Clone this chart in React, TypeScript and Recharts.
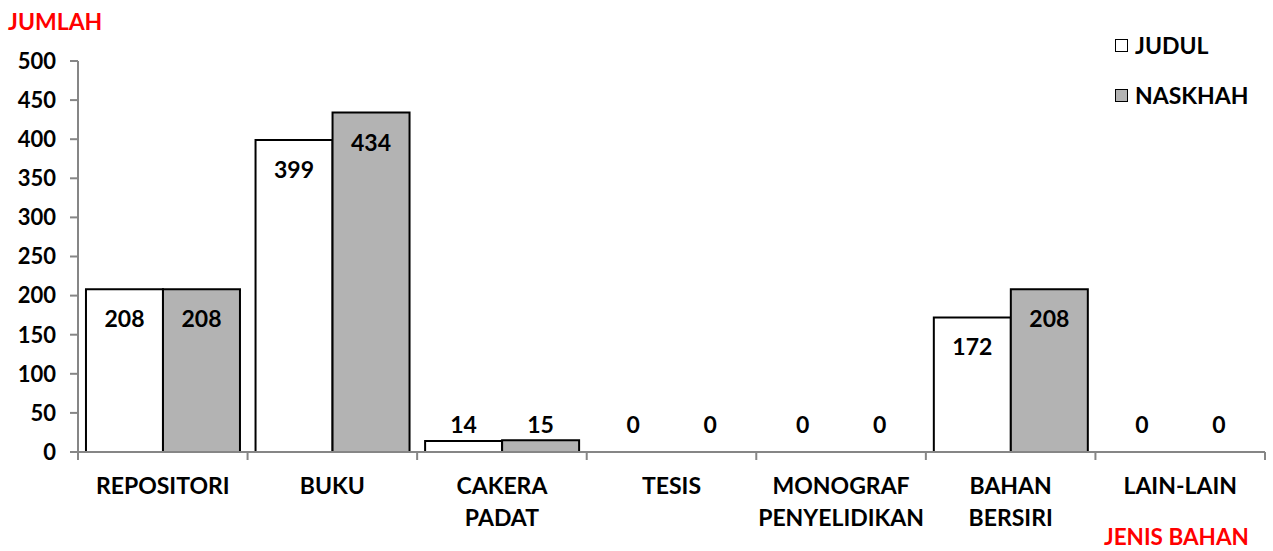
import React from "react";
import { Bar, BarChart, XAxis, YAxis, LabelList, Rectangle } from "recharts";

const categories = ["REPOSITORI", "BUKU", "CAKERA\nPADAT", "TESIS", "MONOGRAF\nPENYELIDIKAN", "BAHAN\nBERSIRI", "LAIN-LAIN"];
const judul = [208, 399, 14, 0, 0, 172, 0];
const naskhah = [208, 434, 15, 0, 0, 208, 0];
const yTicks = [0, 50, 100, 150, 200, 250, 300, 350, 400, 450, 500];

const data = categories.map((name, i) => ({ name, judul: judul[i], naskhah: naskhah[i] }));

const FONT = "Lato, 'Open Sans', sans-serif";
const W = 1273;
const H = 551;
const PLOT_LEFT = 78;
const PLOT_RIGHT = 1265;
const PLOT_TOP = 61;
const PLOT_BOTTOM = 452;
const BAND = (PLOT_RIGHT - PLOT_LEFT) / categories.length;

function CategoryTick(props: any) {
  const { x, y, payload, index } = props;
  const lines = String(payload.value).split("\n");
  const left = x - BAND / 2;
  return (
    <g>
      <line x1={left} y1={y - 8} x2={left} y2={y} stroke="#868686" strokeWidth={2} />
      {index === categories.length - 1 && (
        <line x1={x + BAND / 2} y1={y - 8} x2={x + BAND / 2} y2={y} stroke="#868686" strokeWidth={2} />
      )}
      <text x={x} y={y} textAnchor="middle" fontFamily={FONT} fontWeight={700} fontSize={23} fill="#000">
        {lines.map((l, i) => (
          <tspan key={i} x={x} dy={i === 0 ? 34 : 32}>
            {l}
          </tspan>
        ))}
      </text>
    </g>
  );
}

function ValueLabel(props: any) {
  const { x, y, width, height, value } = props;
  const base = y + height;
  const cy = height > 40 ? y + 30 : base - 27;
  return (
    <text x={x + width / 2} y={cy} dy={8} textAnchor="middle" fontFamily={FONT} fontWeight={700} fontSize={23} fill="#000">
      {value}
    </text>
  );
}

// zero bars are kept (for their labels) but not drawn
function BarShape(props: any) {
  if (!props.value || props.height < 0.5) return null;
  return <Rectangle {...props} />;
}

function LegendBox() {
  const items = [
    { label: "JUDUL", fill: "#ffffff" },
    { label: "NASKHAH", fill: "#b3b3b3" },
  ];
  return (
    <div style={{ position: "absolute", left: 1115, top: 20, fontFamily: FONT, fontWeight: 700, fontSize: 23 }}>
      {items.map((it) => (
        <div key={it.label} style={{ display: "flex", alignItems: "center", height: 50 }}>
          <span style={{ display: "inline-block", width: 11, height: 11, border: "1.5px solid #000", background: it.fill, marginRight: 7 }} />
          <span>{it.label}</span>
        </div>
      ))}
    </div>
  );
}

export default function App() {
  return (
    <div style={{ position: "absolute", left: 0, top: 0, width: W, height: H, background: "#fff" }}>
      <BarChart
        width={W}
        height={H}
        data={data}
        margin={{ top: PLOT_TOP, right: W - PLOT_RIGHT, bottom: 0, left: 0 }}
        barCategoryGap="4.7%"
        barGap={0}
      >
        <YAxis
          width={PLOT_LEFT}
          domain={[0, 500]}
          ticks={yTicks}
          interval={0}
          axisLine={{ stroke: "#868686", strokeWidth: 2 }}
          tickLine={{ stroke: "#868686", strokeWidth: 2 }}
          tickSize={8}
          tickMargin={14}
          tick={{ fontFamily: FONT, fontWeight: 700, fontSize: 22, fill: "#000" }}
        />
        <XAxis
          dataKey="name"
          height={H - PLOT_BOTTOM}
          interval={0}
          axisLine={{ stroke: "#868686", strokeWidth: 2 }}
          tickLine={false}
          tick={<CategoryTick />}
        />
        <Bar dataKey="judul" fill="#ffffff" stroke="#000" strokeWidth={2} minPointSize={0.01} shape={<BarShape />} isAnimationActive={false}>
          <LabelList dataKey="judul" content={<ValueLabel />} />
        </Bar>
        <Bar dataKey="naskhah" fill="#b3b3b3" stroke="#000" strokeWidth={2} minPointSize={0.01} shape={<BarShape />} isAnimationActive={false}>
          <LabelList dataKey="naskhah" content={<ValueLabel />} />
        </Bar>
        <text x={8} y={30} fontFamily={FONT} fontWeight={700} fontSize={23} fill="#ff0000">JUMLAH</text>
        <text x={1104} y={545} fontFamily={FONT} fontWeight={700} fontSize={22.5} fill="#ff0000">JENIS BAHAN</text>
      </BarChart>
      <LegendBox />
    </div>
  );
}
